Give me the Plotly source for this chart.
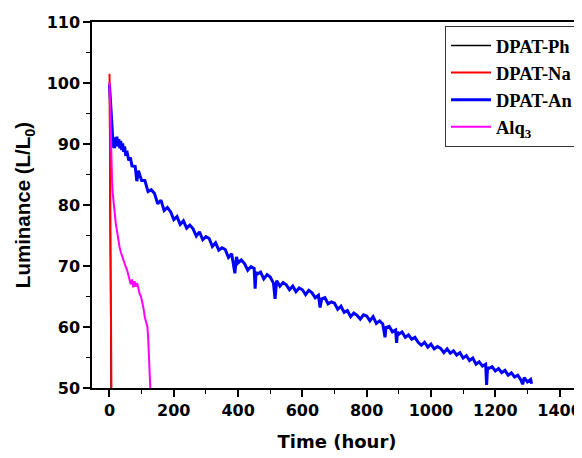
import plotly.graph_objects as go

# DPAT-Ph (hidden beneath DPAT-Na)
ph_t = [0, 5]
ph_v = [100.0, 50.0]

# DPAT-Na
na_t = [0, 0.3, 6]
na_v = [101.5, 100.5, 50.0]

# DPAT-An: (time, luminance) readings
an_data = [
    (0, 99.7), (2, 97.5), (4, 95.8), (6, 94.0), (8, 92.5), (10, 91.0), (12, 89.4), (14, 90.6), (16, 89.3),
    (18, 91.1), (20, 90.0), (23, 91.2), (26, 89.6), (29, 90.8), (32, 89.3), (35, 90.5), (38, 89.0),
    (41, 90.1), (44, 88.7), (47, 89.6), (50, 88.4), (55, 88.6), (60, 87.3), (65, 87.8), (70, 86.4),
    (80, 86.3), (85, 83.9), (90, 85.6), (100, 84.0), (110, 84.0), (120, 82.2), (130, 82.5), (140, 81.9),
    (150, 80.2), (160, 80.8), (170, 79.1), (180, 79.6), (190, 78.9), (200, 77.6), (210, 78.1), (220, 76.8),
    (230, 77.4), (240, 76.2), (250, 76.7), (260, 76.1), (270, 74.9), (280, 75.6), (290, 74.3), (300, 74.8),
    (310, 74.5), (320, 73.2), (330, 73.8), (340, 72.6), (350, 73.0), (360, 72.7), (370, 71.4), (380, 72.0),
    (390, 68.8), (395, 71.5), (400, 70.5), (410, 71.0), (420, 70.4), (430, 69.3), (440, 69.9), (450, 69.6),
    (453, 66.3), (456, 69.0), (460, 68.7), (470, 69.0), (480, 67.9), (490, 68.6), (500, 68.2), (510, 67.2),
    (515, 64.6), (520, 67.6), (530, 66.7), (540, 67.3), (550, 66.9), (560, 66.1), (570, 66.7), (580, 65.8),
    (590, 66.4), (600, 66.1), (610, 65.3), (620, 66.0), (630, 65.6), (640, 64.8), (650, 65.2), (655, 63.2),
    (660, 64.6), (670, 64.8), (680, 63.8), (690, 64.1), (700, 63.9), (710, 62.9), (720, 63.4), (730, 62.4),
    (740, 62.7), (750, 61.7), (760, 62.3), (770, 61.9), (780, 61.3), (790, 62.0), (800, 61.8), (810, 61.0),
    (820, 61.7), (830, 60.6), (840, 61.0), (850, 60.5), (857, 58.3), (860, 59.9), (870, 60.1), (880, 59.2),
    (890, 59.5), (893, 57.4), (896, 59.2), (900, 58.8), (910, 59.2), (920, 58.3), (930, 58.7), (940, 58.0),
    (950, 58.3), (960, 57.5), (970, 57.0), (980, 57.5), (990, 56.7), (1000, 57.2), (1010, 56.4),
    (1020, 56.8), (1030, 56.5), (1040, 55.8), (1050, 56.4), (1060, 55.7), (1070, 56.1), (1080, 55.4),
    (1090, 55.8), (1100, 54.9), (1110, 55.3), (1120, 54.5), (1130, 54.9), (1140, 53.9), (1150, 54.3),
    (1160, 53.6), (1170, 53.9), (1173, 50.5), (1176, 53.4), (1180, 53.2), (1190, 53.5), (1200, 52.8),
    (1210, 53.2), (1220, 52.5), (1230, 52.9), (1240, 52.1), (1250, 52.5), (1260, 51.8), (1270, 52.1),
    (1280, 51.3), (1285, 50.6), (1290, 51.7), (1300, 51.0), (1310, 51.4), (1313, 50.7),
]
an_t = [p[0] for p in an_data]
an_v = [p[1] for p in an_data]

# Alq3
alq_t = [0, 1, 2, 3, 4, 6, 8, 10, 12, 14, 17, 20, 24, 27, 31, 35, 39, 43, 47, 51, 55, 58, 62, 66, 70,
         74, 78, 82, 86, 90, 94, 98, 102, 106, 110, 113, 116, 118, 120, 122, 124, 126, 127]
alq_v = [100.2, 97.5, 95.0, 92.0, 89.5, 86.5, 84.0, 82.0, 80.8, 79.5, 77.5, 76.8, 75.5, 74.3, 73.2, 72.3,
         71.6, 70.9, 70.4, 69.8, 69.3, 68.6, 68.2, 67.0, 67.8, 66.5, 67.5, 66.6, 67.2, 66.0, 65.4, 65.0,
         64.2, 63.0, 61.6, 61.0, 60.4, 60.0, 58.5, 56.0, 53.5, 51.0, 50.0]

series_names = ["DPAT-Ph", "DPAT-Na", "DPAT-An", "Alq<sub>3</sub>"]
x_ticks = [0, 200, 400, 600, 800, 1000, 1200, 1400]
y_ticks = [50, 60, 70, 80, 90, 100, 110]

fig = go.Figure()
fig.add_trace(go.Scatter(x=ph_t, y=ph_v, mode="lines", name=series_names[0],
                         line=dict(color="black", width=1.5)))
fig.add_trace(go.Scatter(x=na_t, y=na_v, mode="lines", name=series_names[1],
                         line=dict(color="#ff0000", width=2)))
fig.add_trace(go.Scatter(x=an_t, y=an_v, mode="lines", name=series_names[2],
                         line=dict(color="#0000ff", width=3)))
fig.add_trace(go.Scatter(x=alq_t, y=alq_v, mode="lines", name=series_names[3],
                         line=dict(color="#ff00ff", width=2)))

tickfont = dict(family="DejaVu Sans", size=16, color="black", weight="bold")
xtitlefont = dict(family="DejaVu Sans", size=18, color="black", weight="bold")
ytitlefont = dict(family="Liberation Sans", size=20.5, color="black", weight="bold")

fig.update_layout(
    width=574, height=450,
    margin=dict(l=84, r=0, t=14, b=70, autoexpand=False),
    paper_bgcolor="white", plot_bgcolor="white",
    showlegend=True,
    legend=dict(x=0.7204, y=0.989, xanchor="left", yanchor="top",
                font=dict(family="Liberation Serif", size=18.5, color="black", weight="bold"),
                bordercolor="#333333", borderwidth=1, bgcolor="white",
                itemwidth=40, tracegroupgap=0),
    xaxis=dict(range=[-54.4, 1469.7], tickvals=x_ticks, ticks="outside", ticklen=7, tickwidth=1.5,
               tickcolor="black", showline=True, linecolor="black", linewidth=1.5, mirror=True,
               showgrid=False, zeroline=False, tickfont=tickfont,
               minor=dict(dtick=100, tick0=0, ticks="outside", ticklen=4, tickwidth=1.2, tickcolor="black"),
               title=dict(text="Time (hour)", font=xtitlefont, standoff=16)),
    yaxis=dict(range=[50, 110], tickvals=y_ticks, ticks="outside", ticklen=7, tickwidth=1.5,
               tickcolor="black", showline=True, linecolor="black", linewidth=1.5, mirror=False,
               showgrid=False, zeroline=False, tickfont=tickfont,
               minor=dict(dtick=5, tick0=50, ticks="outside", ticklen=4, tickwidth=1.2, tickcolor="black"),
               title=dict(text="Luminance (L/L<sub>0</sub>)", font=ytitlefont, standoff=10)),
)

fig.write_html("out.html")
